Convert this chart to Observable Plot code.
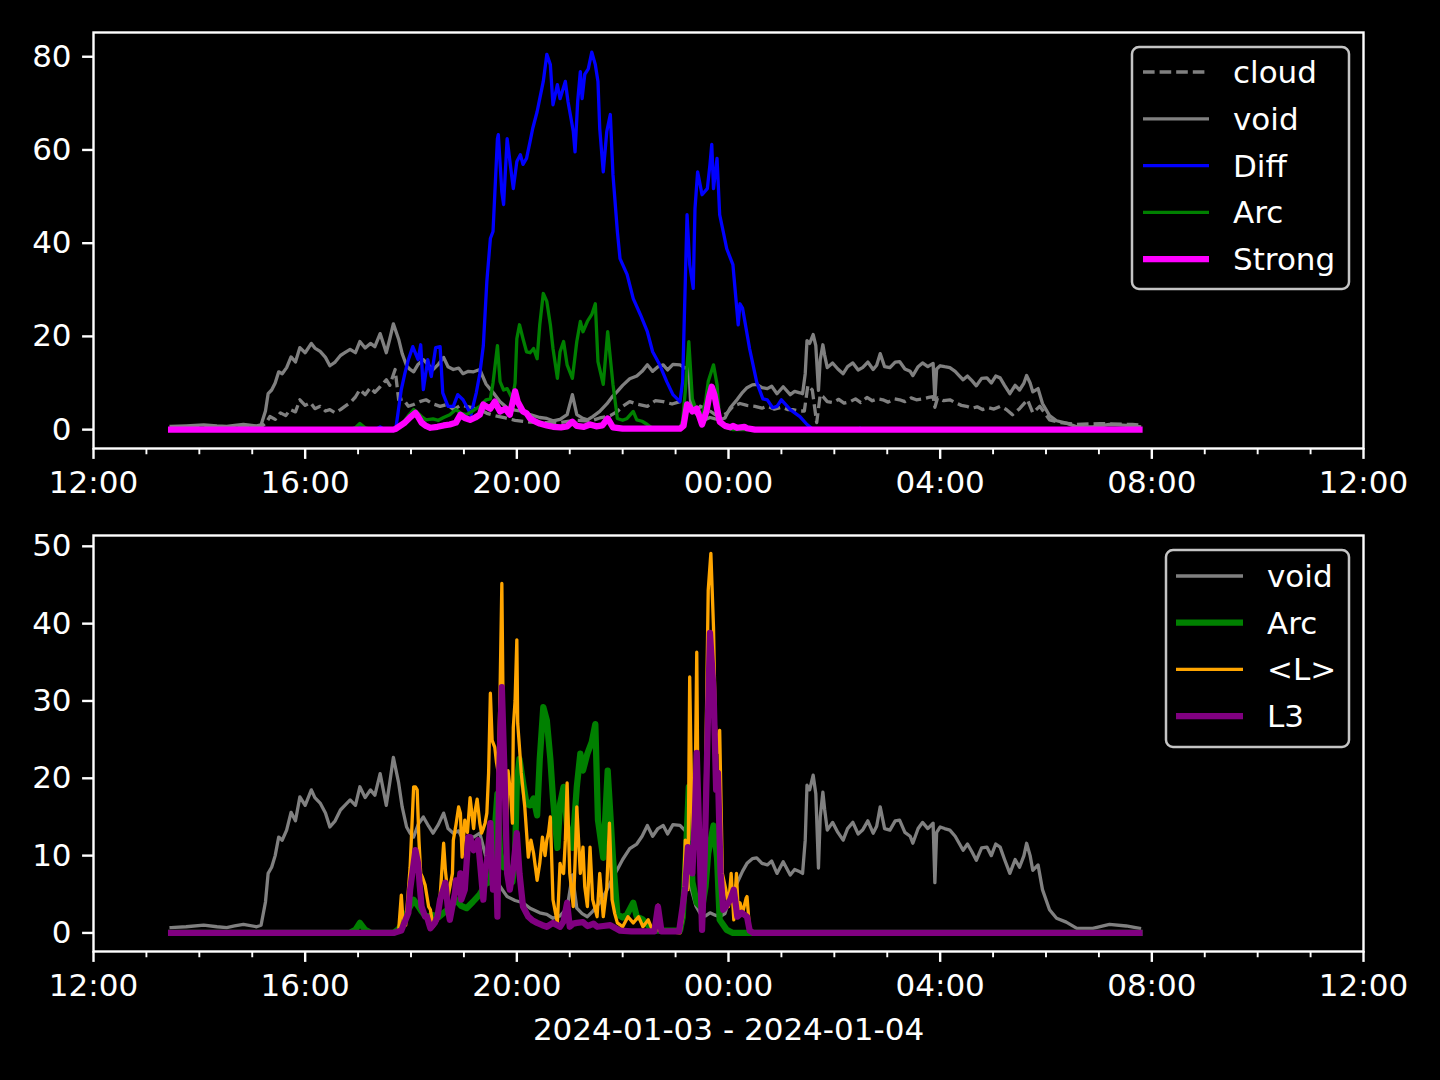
<!DOCTYPE html>
<html>
<head>
<meta charset="utf-8">
<script src="https://cdn.jsdelivr.net/npm/d3@7"></script>
<script src="https://cdn.jsdelivr.net/npm/@observablehq/plot@0.6"></script>
<style>
  html, body { margin: 0; padding: 0; background: #000; }
  #wrap { position: relative; width: 1440px; height: 1080px; background: #000; overflow: hidden; }
  #legend { position: absolute; left: 0; top: 0; pointer-events: none; }
</style>
</head>
<body>
<div id="wrap"></div>
<script>
// ---------- DATA (minutes after 2024-01-03 12:00, value) ----------
const xTickLabels = ["12:00", "16:00", "20:00", "00:00", "04:00", "08:00", "12:00"];
const topYTicks = [0, 20, 40, 60, 80];
const bottomYTicks = [0, 10, 20, 30, 40, 50];
const xAxisLabel = "2024-01-03 - 2024-01-04";

const voidData = [[88,0.7],[105,0.8],[125,1.0],[140,0.8],[151,0.7],[160,0.9],[170,1.1],[185,0.8],[190,1.0],[195,4],[198,7.7],[202,8.5],[206,10],[210,12.4],[214,12.0],[219,13.3],[224,15.6],[229,14.5],[234,17.6],[240,16.5],[247,18.5],[251,17.5],[257,16.8],[263,15.5],[268,13.7],[274,14.5],[280,15.9],[285,16.5],[291,17.2],[297,16.5],[302,18.9],[308,17.5],[314,18.5],[319,17.8],[325,20.6],[332,16.5],[336,19.5],[340,22.7],[346,19.4],[350,16.3],[355,13.7],[359,12.9],[363,12.4],[368,14],[374,15],[380,13.8],[385,12.9],[391,14],[397,15.5],[402,13.5],[408,12.9],[414,13.2],[419,12],[425,12.5],[431,12.4],[438,12.9],[445,9.8],[455,7.5],[461,6],[469,4.7],[478,4.2],[487,3.9],[495,3.2],[506,2.6],[514,2.4],[521,1.9],[529,2.2],[537,3.2],[543,7.5],[548,3.2],[554,2.5],[560,2.1],[566,2.8],[574,3.9],[582,5.5],[588,7],[594,8.2],[600,9.5],[608,10.9],[616,11.5],[622,12.5],[628,13.9],[634,12.5],[640,13.5],[646,13.9],[651,12.8],[657,14],[665,13.9],[671,13.2],[675,13.7],[677,6],[683,3.5],[688,2.5],[694,2.2],[699,2.6],[705,2.3],[710,2.1],[716,2.5],[722,4.7],[730,6.5],[736,8],[741,9.0],[747,9.6],[752,9.7],[758,9.0],[764,8.8],[769,9.3],[775,7.7],[782,9.2],[790,7.5],[795,8.2],[801,7.9],[804,7.7],[807,12],[809,19.1],[812,18.5],[816,20.4],[819,18],[822,8.4],[824,15],[827,18.2],[829,16],[832,13.3],[838,14.3],[844,13],[850,12],[855,13.5],[861,14.3],[867,12.8],[872,13.3],[878,14.5],[884,12.9],[888,13.8],[892,16.3],[897,13.5],[903,13.3],[909,14.5],[914,14.6],[920,13],[926,12.5],[929,11.6],[935,13.5],[940,14.3],[946,13.5],[952,14.2],[954,6.5],[956,13],[960,13.7],[965,13.5],[971,13.3],[977,12.5],[982,11.5],[986,10.7],[991,11.5],[996,10.5],[1001,9.4],[1007,11],[1013,11.1],[1018,10],[1023,11.5],[1028,11.1],[1033,9.5],[1039,7.7],[1045,9.5],[1050,8.5],[1055,10],[1058,11.6],[1062,10],[1065,8.1],[1071,8.8],[1076,5.6],[1084,3.0],[1092,1.9],[1103,1.4],[1115,0.6],[1133,0.6],[1152,1.1],[1171,0.9],[1186,0.6]];

const cloudData = [[88,0.5],[150,0.5],[190,0.6],[196,1.5],[200,2.8],[206,2.2],[212,3.6],[218,3.0],[223,4.3],[229,3.8],[234,6.4],[240,5.2],[246,5.8],[251,4.5],[257,5.0],[263,4.0],[268,4.3],[274,3.6],[280,4.3],[285,5.0],[291,5.8],[297,7.0],[302,8.6],[308,7.5],[314,9.0],[319,8.0],[325,9.2],[332,10.7],[336,9.5],[342,12.9],[346,6.4],[351,6.6],[357,5.0],[363,5.4],[370,6],[377,6.4],[385,5.5],[393,5.0],[401,5.4],[408,4.3],[416,5.2],[423,5.0],[431,4.6],[438,4.3],[446,3.5],[455,3.0],[467,2.5],[478,2.0],[495,1.6],[512,1.5],[529,1.5],[546,2.0],[563,1.8],[574,2.5],[586,3.0],[594,3.9],[600,5.0],[608,6.0],[616,5.5],[628,5.0],[637,6.2],[646,6.0],[656,5.5],[665,6.0],[674,5.0],[683,3.5],[688,5],[694,4.5],[699,4.0],[705,3.2],[710,2.8],[718,3.5],[725,5.0],[733,5.6],[741,5.2],[750,5.0],[758,4.6],[764,5.0],[772,4.4],[780,4.8],[787,4.3],[793,4.3],[801,4.0],[806,4],[810,9.5],[815,8.5],[820,1.5],[824,7.5],[827,7.1],[832,6.0],[838,5.8],[845,6.5],[851,5.7],[858,6],[864,6.6],[870,5.8],[877,6.9],[883,6.2],[889,6.6],[895,6.4],[901,5.9],[908,6.6],[914,6.4],[920,6.0],[927,6.8],[933,6.4],[940,6.6],[947,6.9],[952,7.1],[954,4.8],[957,6.8],[964,6.2],[971,6.4],[978,5.7],[984,5.2],[990,5],[996,4.6],[1002,4.9],[1008,4.3],[1015,4.7],[1021,4.4],[1028,5],[1035,4.3],[1042,3.2],[1050,4.5],[1059,6.4],[1065,3.6],[1073,5],[1084,2.1],[1096,1.5],[1115,1.1],[1141,1.3],[1178,1.1],[1186,1.0]];

const diffData = [[88,0],[290,0],[298,0.4],[302,1.2],[306,0.2],[320,0],[325,0.6],[330,0],[340,0],[343,0.5],[349,8.6],[353,12],[357,15],[362,17.8],[368,15],[371,18.2],[374,8.6],[379,15],[383,11.4],[388,17.6],[393,17.8],[396,7.9],[402,5],[408,5],[413,7.5],[419,6.4],[425,4.3],[428,3.2],[434,7.9],[438,12],[442,18],[446,31.8],[450,41],[453,42.5],[458,62.4],[459,63.3],[463,51],[465,48.3],[469,62.4],[475,53.2],[476,51.7],[480,57.5],[484,59],[487,56.9],[491,58.2],[495,61.8],[498,64.6],[503,68.2],[506,71],[510,74.7],[514,80.5],[518,78.3],[521,69.7],[526,74],[529,71],[535,74.7],[538,70.4],[544,64],[546,59.6],[549,70.4],[552,76.8],[554,71],[557,76.2],[561,77.4],[565,81],[569,78.3],[572,74.7],[574,64.6],[578,55.3],[582,64],[586,67.6],[589,54.7],[594,42.5],[597,36.7],[605,33.3],[612,28.1],[620,24.7],[628,21],[634,16.7],[642,13.9],[650,10.3],[657,7.5],[665,6],[668,10.3],[673,46.1],[676,35.4],[680,30.3],[682,47.4],[685,55.3],[690,50.4],[696,51.7],[699,56.9],[701,61.2],[703,51.7],[707,58.2],[710,46.1],[714,42.5],[718,38.8],[725,35.4],[731,22.5],[733,27],[736,26],[744,17.3],[752,10.2],[759,6.6],[764,6.4],[770,4.7],[775,5],[780,6.4],[790,4.3],[801,2.8],[809,1.1],[816,0],[865,0],[869,0.3],[873,0],[1186,0]];

const arcData = [[88,0],[290,0],[297,0.4],[302,1.3],[308,0.4],[315,0],[340,0],[346,0.5],[351,1.5],[357,3],[363,4.3],[368,3.5],[372,2.8],[377,2.1],[385,2.3],[391,2.0],[397,2.6],[404,3.2],[411,4.3],[417,3.5],[423,3.2],[430,4],[438,5],[445,6.4],[450,6.6],[453,10],[458,18],[461,10.3],[465,8.5],[469,8.8],[475,6.6],[478,10],[480,19.5],[483,22.5],[487,19.5],[491,16.7],[495,16.5],[499,17.4],[503,15.2],[506,22.5],[510,29.2],[514,27.5],[518,22.5],[521,17.4],[526,11],[529,16.7],[533,18.9],[537,13.9],[543,11],[548,18.9],[552,23.2],[555,21],[560,23.2],[565,24.7],[569,27],[572,14.6],[578,9.7],[583,21],[589,9.7],[594,2.4],[600,2.0],[605,2.4],[612,3.9],[616,2.1],[622,1.8],[628,1.1],[634,0.3],[665,0.3],[668,2],[671,8.2],[675,18.9],[679,6.6],[684,3.9],[690,3.2],[694,6],[697,10.3],[703,13.9],[707,9.7],[710,1.7],[718,0.4],[725,0],[1186,0]];

const strongData = [[88,0],[340,0],[343,0.2],[353,1.5],[360,2.8],[365,3.6],[368,2.8],[372,1.5],[377,0.8],[382,0.4],[390,0.6],[397,0.9],[404,1.1],[411,1.5],[416,3.2],[421,2.5],[427,2.1],[433,2.6],[438,3.2],[442,5.4],[445,5],[450,4.5],[455,6],[461,3.9],[467,4.5],[472,3.2],[478,8.2],[481,6],[487,3.9],[491,3.5],[495,2.4],[500,1.8],[506,1.3],[514,0.9],[521,0.6],[530,0.5],[537,0.7],[543,1.7],[548,0.8],[556,0.6],[563,1.1],[570,0.7],[577,0.9],[583,2.4],[589,0.5],[600,0.2],[665,0.2],[669,0.8],[673,5.4],[676,4.8],[679,3.9],[684,4.5],[690,1.1],[695,3.9],[698,7],[701,9.2],[704,7.5],[707,4.5],[710,1.7],[716,0.8],[722,0.5],[725,0.8],[730,0.4],[738,0.6],[741,0.3],[750,0],[1186,0]];

const lMeanData = [[88,0],[340,0],[346,0.3],[349,4.9],[351,1.5],[354,1.0],[359,8.5],[363,18.9],[365,18.9],[367,18.5],[369,12],[371,7.7],[373,7.2],[376,6.2],[380,3.4],[382,3],[385,0.8],[390,1.7],[393,4.7],[397,11.6],[399,8.1],[401,5.9],[402,4.7],[407,7.7],[408,12],[411,14],[414,16.3],[416,15.5],[418,9.8],[421,14.6],[424,13],[427,17.5],[431,13.5],[433,16],[435,17.3],[438,14.2],[440,12.9],[442,13.5],[444,14.2],[446,15.5],[448,20.7],[450,31],[452,24.9],[455,24],[457,22],[459,20.7],[461,31.4],[463,45.2],[465,22.7],[468,12],[470,21],[473,18],[475,14.2],[476,26.6],[478,30],[480,37.9],[481,27.1],[483,24],[485,20.7],[489,16.3],[493,9.8],[496,12],[499,10.3],[503,6.8],[506,9],[509,12.4],[512,10],[514,12],[516,13],[518,15],[521,4.3],[524,2.5],[526,1.3],[529,9],[531,8],[533,7.7],[535,12],[537,19.4],[540,7.7],[544,3.4],[546,9],[548,16.3],[552,7.7],[555,11.1],[557,6],[560,3.4],[563,11.1],[566,4.3],[569,3],[571,2.1],[574,7.7],[578,2.1],[582,5.9],[585,14.2],[588,4.3],[591,2.5],[594,1.3],[600,0.8],[606,2.1],[612,1.3],[618,2.1],[623,0.8],[629,1.7],[634,0.3],[638,0.3],[640,3.6],[642,0.3],[665,0],[668,2],[671,12],[674,5.6],[676,33.1],[679,12],[682,16.3],[684,36.3],[685,22.7],[688,8],[690,1.3],[693,12],[697,44.3],[700,49.1],[703,39.5],[705,27.1],[707,23.3],[710,26.2],[713,7.7],[717,5.6],[720,3.4],[723,7.7],[726,1.7],[729,7.7],[731,3],[733,3.9],[736,2.6],[740,4.5],[741,4.7],[744,0.3],[748,0],[1186,0]];

const l3Data = [[88,0],[340,0],[349,0.3],[357,2.6],[359,5.6],[363,9],[365,10.7],[368,9],[370,6],[372,3.4],[376,2.1],[378,2.1],[382,0.6],[387,1.3],[390,2.1],[393,4.3],[399,6.5],[402,3],[404,1.7],[407,3.5],[410,5.2],[411,6.8],[414,5.5],[416,7.7],[417,4.3],[421,5.6],[425,12.4],[427,12.4],[431,10.7],[433,11.1],[436,12],[441,5.6],[442,4.3],[444,7.7],[447,10],[450,14.2],[453,5.6],[457,6.8],[458,2.1],[460,20.7],[463,31.8],[466,20.7],[469,7.7],[472,5.6],[476,8.5],[480,12.9],[483,7.7],[487,3.4],[493,2.1],[498,1.6],[503,1.3],[509,1.0],[514,0.8],[521,1.3],[529,0.8],[533,1.5],[537,3.9],[540,0.8],[544,1.2],[548,1.3],[555,1.4],[560,0.9],[563,1.0],[567,1.2],[571,0.8],[578,0.9],[586,1.0],[592,0.6],[597,0.3],[610,0.2],[636,0.2],[640,3.4],[644,0.2],[664,0.2],[668,3.4],[671,6],[674,11.1],[679,7.7],[682,15.5],[684,23.3],[687,12],[690,0.4],[693,9.8],[697,29.2],[699,38.8],[703,31.4],[706,18.5],[708,20.7],[711,7.7],[714,3],[717,3.4],[722,4.3],[726,5.6],[730,2.1],[735,2.6],[741,2.1],[744,0.3],[748,0],[1186,0]];

// ---------- helpers ----------
const T0 = Date.UTC(2024, 0, 3, 12);
const toRows = pairs => pairs.map(([m, v]) => ({t: new Date(T0 + m * 60000), v}));
const xDomain = [new Date(T0), new Date(T0 + 24 * 3600e3)];
const majorTicks = d3.utcHour.every(4).range(xDomain[0], new Date(+xDomain[1] + 1));
const minorTicks = d3.utcHour.every(1).range(xDomain[0], new Date(+xDomain[1] + 1))
  .filter(d => !majorTicks.some(t => +t === +d));

const GRAY = "#808080", BLUE = "#0000ff", GREEN = "#008000", MAGENTA = "#ff00ff", ORANGE = "#ffa500", PURPLE = "#800080";
const THIN = 3.3, THICK = 6.25, DASH = "11.6,5";

function seriesLine(data, stroke, strokeWidth, dash) {
  return Plot.line(toRows(data), {x: "t", y: "v", stroke, strokeWidth, strokeDasharray: dash, strokeLinejoin: "round", strokeLinecap: dash ? "butt" : "square"});
}

function panel({height, marginTop, marginBottom, yDomain, yTicks, lines, extra = []}) {
  return Plot.plot({
    width: 1440, height, marginLeft: 93, marginRight: 77, marginTop, marginBottom,
    style: {background: "#000", color: "#fff", fontFamily: "'DejaVu Sans', sans-serif", fontSize: "31px", overflow: "visible"},
    x: {type: "utc", domain: xDomain, label: null},
    y: {domain: yDomain, label: null},
    marks: [
      ...lines,
      Plot.frame({stroke: "#fff", strokeWidth: 2.4}),
      Plot.axisX({ticks: minorTicks, tickSize: 6.25, strokeWidth: 1.9, tickFormat: () => "", label: null}),
      Plot.axisX({ticks: majorTicks, tickSize: 10.9, strokeWidth: 2.4, tickPadding: 12, label: null,
        tickFormat: d => xTickLabels[majorTicks.findIndex(t => +t === +d)]}),
      Plot.axisY({ticks: yTicks, tickSize: 10.9, strokeWidth: 2.4, tickPadding: 11, label: null, tickFormat: d => String(d)}),
      ...extra
    ]
  });
}

const wrap = document.getElementById("wrap");

const topPlot = panel({
  height: 520, marginTop: 32, marginBottom: 72,
  yDomain: [-4.05, 85.2], yTicks: topYTicks,
  lines: [
    seriesLine(cloudData, GRAY, THIN, DASH),
    seriesLine(voidData, GRAY, THIN),
    seriesLine(diffData, BLUE, THIN),
    seriesLine(arcData, GREEN, THIN),
    seriesLine(strongData, MAGENTA, THICK)
  ]
});
wrap.appendChild(topPlot);

const bottomPlot = panel({
  height: 560, marginTop: 15, marginBottom: 129,
  yDomain: [-2.4, 51.4], yTicks: bottomYTicks,
  lines: [
    seriesLine(voidData, GRAY, THIN),
    seriesLine(arcData, GREEN, THICK),
    seriesLine(lMeanData, ORANGE, THIN),
    seriesLine(l3Data, PURPLE, THICK)
  ],
  extra: [Plot.text([xAxisLabel], {text: d => d, frameAnchor: "bottom", dy: 88.5, fill: "#fff", fontSize: 31})]
});
wrap.appendChild(bottomPlot);

// ---------- legends ----------
const topLegend = [
  {label: "cloud", color: GRAY, width: THIN, dash: DASH},
  {label: "void", color: GRAY, width: THIN},
  {label: "Diff", color: BLUE, width: THIN},
  {label: "Arc", color: GREEN, width: THIN},
  {label: "Strong", color: MAGENTA, width: THICK}
];
const bottomLegend = [
  {label: "void", color: GRAY, width: THIN},
  {label: "Arc", color: GREEN, width: THICK},
  {label: "<L>", color: ORANGE, width: THIN},
  {label: "L3", color: PURPLE, width: THICK}
];

const ns = "http://www.w3.org/2000/svg";
const lg = document.createElementNS(ns, "svg");
lg.setAttribute("id", "legend");
lg.setAttribute("width", 1440);
lg.setAttribute("height", 1080);
function el(name, attrs, parent) {
  const e = document.createElementNS(ns, name);
  for (const k in attrs) e.setAttribute(k, attrs[k]);
  parent.appendChild(e);
  return e;
}
function drawLegend(items, box, rowY0, rowStep, x1, x2, tx) {
  el("rect", {x: box.x, y: box.y, width: box.w, height: box.h, rx: 7, ry: 7,
    fill: "#000", "fill-opacity": 0.8, stroke: "#c4c4c4", "stroke-width": 2.5}, lg);
  items.forEach((it, i) => {
    const cy = rowY0 + i * rowStep;
    const ln = el("line", {x1: it.dash ? x1 : x1 + it.width / 2, x2: it.dash ? x2 : x2 - it.width / 2, y1: cy, y2: cy,
      stroke: it.color, "stroke-width": it.width, "stroke-linecap": it.dash ? "butt" : "square"}, lg);
    if (it.dash) ln.setAttribute("stroke-dasharray", it.dash);
    const t = el("text", {x: tx, y: cy + 11, fill: "#fff", "font-family": "'DejaVu Sans', sans-serif", "font-size": 31}, lg);
    t.textContent = it.label;
  });
}
drawLegend(topLegend, {x: 1132, y: 47, w: 217, h: 242}, 72, 46.8, 1143, 1209, 1233);
drawLegend(bottomLegend, {x: 1166, y: 550, w: 183, h: 197}, 576, 46.7, 1176, 1243, 1267);
wrap.appendChild(lg);
</script>
</body>
</html>
